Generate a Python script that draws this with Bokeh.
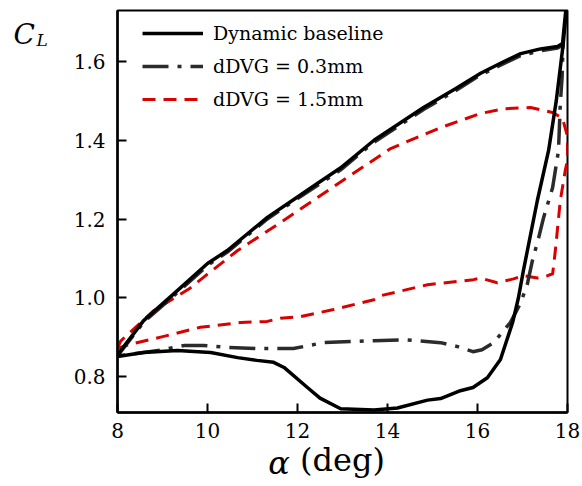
from bokeh.plotting import figure
from bokeh.models import (Range1d, FixedTicker, NumeralTickFormatter, Legend,
                          LegendItem, Label)
from bokeh.embed import file_html
from bokeh.resources import INLINE

# ---- data ----
# Dynamic baseline: upstroke then downstroke
base_alpha = [8.0, 8.58, 9.33, 10.0, 10.44, 11.33, 12.0, 12.44, 12.96, 13.7,
              14.8, 15.5, 16.07, 16.5, 16.96, 17.4, 17.78, 17.89, 17.96,
              17.95, 17.9, 17.75, 17.58, 17.33, 17.02, 16.91, 16.78, 16.51,
              16.22, 15.9, 15.62, 15.18, 14.89, 14.22, 13.7, 12.96, 12.5,
              12.22, 11.7, 11.47, 11.1, 10.67, 10.07, 9.33, 8.58, 8.0]
base_cl = [0.855, 0.942, 1.018, 1.087, 1.12, 1.204, 1.256, 1.29, 1.33, 1.40,
           1.483, 1.53, 1.57, 1.595, 1.62, 1.632, 1.638, 1.646, 1.728,
           1.70, 1.64, 1.50, 1.374, 1.247, 1.069, 1.0, 0.937, 0.843,
           0.797, 0.772, 0.764, 0.744, 0.74, 0.72, 0.715, 0.718, 0.745,
           0.772, 0.823, 0.836, 0.841, 0.848, 0.861, 0.866, 0.861, 0.851]

# dDVG = 0.3 mm
dvg03_alpha = [8.0, 8.58, 9.33, 10.0, 10.44, 11.33, 12.0, 12.44, 12.96, 13.7,
               14.8, 15.5, 16.07, 16.5, 16.96, 17.4, 17.78, 17.9,
               17.88, 17.84, 17.8, 17.67, 17.47, 17.36, 17.22, 17.11, 16.96,
               16.73, 16.36, 16.1, 15.9, 15.56, 15.18, 14.44, 13.7, 12.58,
               11.91, 11.1, 10.44, 9.91, 9.5, 9.0, 8.58, 8.0]
dvg03_cl = [0.852, 0.938, 1.013, 1.082, 1.116, 1.2, 1.252, 1.285, 1.325, 1.395,
            1.478, 1.525, 1.566, 1.59, 1.615, 1.627, 1.634, 1.642,
            1.56, 1.493, 1.374, 1.28, 1.204, 1.153, 1.094, 1.036, 0.987,
            0.937, 0.886, 0.868, 0.863, 0.876, 0.886, 0.893, 0.891, 0.886,
            0.871, 0.871, 0.874, 0.879, 0.879, 0.868, 0.861, 0.852]

# dDVG = 1.5 mm
dvg15_alpha = [8.0, 8.07, 8.8, 9.62, 10.0, 10.67, 11.69, 12.67, 13.1, 14.07,
               15.18, 16.07, 16.6, 17.18, 17.69, 17.89, 18.0,
               18.0, 17.95, 17.84, 17.73, 17.67, 17.56, 17.33, 17.02, 16.8,
               16.44, 16.07, 15.91, 14.89, 13.84, 13.7, 12.8, 12.07, 11.62,
               11.33, 10.73, 9.84, 8.96, 8.36, 8.0]
dvg15_cl = [0.872, 0.89, 0.967, 1.025, 1.06, 1.12, 1.196, 1.272, 1.305, 1.379,
            1.432, 1.468, 1.48, 1.483, 1.47, 1.455, 1.41,
            1.35, 1.323, 1.247, 1.12, 1.061, 1.056, 1.05, 1.056, 1.048,
            1.038, 1.05, 1.046, 1.033, 1.005, 0.995, 0.97, 0.952, 0.948,
            0.94, 0.937, 0.925, 0.9, 0.884, 0.872]

x_ticks = [8, 10, 12, 14, 16, 18]
y_ticks = [0.8, 1.0, 1.2, 1.4, 1.6]
labels = ["Dynamic baseline", "dDVG = 0.3mm", "dDVG = 1.5mm"]

FONT = "DejaVu Serif"

p = figure(width=582, height=486, output_backend="svg", toolbar_location=None,
           x_range=Range1d(8, 18), y_range=Range1d(0.7086, 1.7295),
           min_border_left=117, min_border_right=15, min_border_top=10,
           min_border_bottom=74)
p.title.visible = False
p.xgrid.visible = False
p.ygrid.visible = False
p.background_fill_color = "white"
p.border_fill_color = "white"
p.outline_line_color = "black"
p.outline_line_width = 2

for ax in (p.xaxis[0], p.yaxis[0]):
    ax.axis_line_width = 2.5
    ax.axis_line_color = "black"
    ax.major_tick_in = 9
    ax.major_tick_out = 0
    ax.major_tick_line_width = 2
    ax.major_tick_line_color = "black"
    ax.minor_tick_line_color = None
    ax.major_label_text_font = FONT
    ax.major_label_text_font_size = "20px"
    ax.major_label_text_color = "black"

p.xaxis[0].ticker = FixedTicker(ticks=x_ticks)
p.yaxis[0].ticker = FixedTicker(ticks=y_ticks)
p.yaxis[0].formatter = NumeralTickFormatter(format="0.0")
p.xaxis[0].major_label_standoff = 10
p.yaxis[0].major_label_standoff = 12

# x-axis title: "(deg)" as the axis label, italic alpha as a label beside it
p.xaxis[0].axis_label = "(deg)"
p.xaxis[0].axis_label_text_font = FONT
p.xaxis[0].axis_label_text_font_style = "normal"
p.xaxis[0].axis_label_text_font_size = "32px"
p.xaxis[0].axis_label_text_color = "black"
p.xaxis[0].axis_label_standoff = 0

r15 = p.line(dvg15_alpha, dvg15_cl, line_color="#d90000", line_width=3,
             line_dash="13 8", line_join="round")
r03 = p.line(dvg03_alpha, dvg03_cl, line_color="#2b2b2b", line_width=3.5,
             line_dash="26 9 4 9", line_join="round")
rb = p.line(base_alpha, base_cl, line_color="black", line_width=3.5,
            line_join="round")

legend = Legend(items=[LegendItem(label=labels[0], renderers=[rb]),
                       LegendItem(label=labels[1], renderers=[r03]),
                       LegendItem(label=labels[2], renderers=[r15])],
                location=(25, 302), padding=0, margin=0, spacing=11,
                glyph_width=61, glyph_height=22, label_height=22,
                label_standoff=10, label_text_font=FONT,
                label_text_font_size="19px", label_text_color="black",
                background_fill_alpha=0, border_line_alpha=0)
p.add_layout(legend)

# axis symbols (placed in the left side panel so they are not clipped)
p.add_layout(Label(x=5.689, y=1.6686, text="C", text_baseline="alphabetic",
                   text_font=FONT, text_font_style="italic",
                   text_font_size="28px", text_color="black"), "left")
p.add_layout(Label(x=6.20, y=1.6546, text="L", text_baseline="alphabetic",
                   text_font=FONT, text_font_style="italic",
                   text_font_size="17px", text_color="black"), "left")
p.add_layout(Label(x=11.35, y=0.5804, text="α", text_baseline="alphabetic",
                   text_font=FONT, text_font_style="italic",
                   text_font_size="32px", text_color="black"), "left")

open("out.html", "w").write(file_html(p, INLINE))
